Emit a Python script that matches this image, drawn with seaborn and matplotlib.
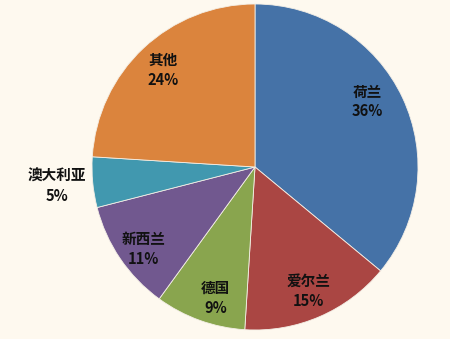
import numpy as np
import matplotlib
matplotlib.use("Agg")
import matplotlib.pyplot as plt
import seaborn as sns

categories = ["荷兰", "爱尔兰", "德国", "新西兰", "澳大利亚", "其他"]
values = [36, 15, 9, 11, 5, 24]
pct_labels = ["36%", "15%", "9%", "11%", "5%", "24%"]
colors = ["#4572A7", "#AA4643", "#89A54E", "#71588F", "#4198AF", "#DB843D"]
label_radius = [0.80, 0.83, 0.84, 0.85, 1.22, 0.82]
label_angle_shift = [5, 0, 3, 2, 0, 0]

sns.set_theme(style="white")
plt.rcParams["font.family"] = ["Noto Sans CJK SC", "DejaVu Sans"]

bg = "#FEF9EF"
fig = plt.figure(figsize=(4.5, 3.39), dpi=100, facecolor=bg)
ax = fig.add_axes([92 / 450, 9 / 339, 326 / 450, 326 / 339])
ax.set_facecolor(bg)

palette = sns.color_palette(colors)
wedges, _ = ax.pie(values, colors=palette, startangle=90, counterclock=False,
                   radius=1.0, wedgeprops=dict(edgecolor="#f4efe6", linewidth=0.6))
ax.set_xlim(-1, 1)
ax.set_ylim(-1, 1)
ax.set_aspect("equal")

for w, cat, pl, r, da in zip(wedges, categories, pct_labels, label_radius, label_angle_shift):
    ang = np.deg2rad((w.theta1 + w.theta2) / 2 + da)
    x, y = r * np.cos(ang), r * np.sin(ang)
    ax.text(x, y, cat + "\n" + pl, ha="center", va="center", fontsize=10.5,
            fontweight="bold", color="#111111", linespacing=1.3)

fig.savefig("out.png", dpi=100, facecolor=bg)
